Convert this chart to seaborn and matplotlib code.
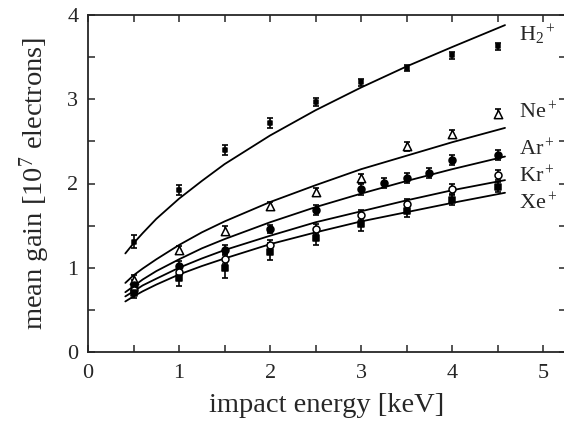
import numpy as np
import pandas as pd
import matplotlib
matplotlib.use("Agg")
import matplotlib.pyplot as plt
from matplotlib.ticker import MultipleLocator
import seaborn as sns

sns.set_style("ticks")
plt.rcParams['font.family'] = ['Liberation Serif', 'DejaVu Serif']
plt.rcParams['mathtext.fontset'] = 'custom'
plt.rcParams['mathtext.rm'] = 'Liberation Serif'
plt.rcParams['mathtext.it'] = 'Liberation Serif:italic'

# measured points (keV, 10^7 electrons)
energy = [0.5, 1.0, 1.5, 2.0, 2.5, 3.0, 3.5, 4.0, 4.5]
h2_gain = [1.31, 1.92, 2.40, 2.72, 2.97, 3.20, 3.37, 3.52, 3.63]
h2_err = [0.08, 0.06, 0.06, 0.06, 0.05, 0.04, 0.04, 0.04, 0.04]
ne_gain = [0.86, 1.21, 1.44, 1.73, 1.90, 2.06, 2.44, 2.59, 2.83]
ne_err = [0.05, 0.05, 0.05, 0.05, 0.05, 0.05, 0.05, 0.05, 0.05]
ar_energy = [0.5, 1.0, 1.5, 2.0, 2.5, 3.0, 3.25, 3.5, 3.75, 4.0, 4.5]
ar_gain = [0.80, 1.02, 1.21, 1.46, 1.69, 1.93, 2.01, 2.07, 2.12, 2.28, 2.34]
ar_err = [0.05, 0.06, 0.06, 0.05, 0.06, 0.07, 0.06, 0.06, 0.06, 0.06, 0.06]
kr_gain = [0.74, 0.95, 1.10, 1.27, 1.46, 1.63, 1.76, 1.94, 2.10]
kr_err = [0.05, 0.06, 0.06, 0.06, 0.06, 0.06, 0.06, 0.06, 0.06]
xe_gain = [0.70, 0.88, 1.00, 1.19, 1.35, 1.52, 1.67, 1.80, 1.96]
xe_err = [0.06, 0.10, 0.12, 0.10, 0.08, 0.08, 0.07, 0.06, 0.06]

# fit curves
fit_energy = [0.41, 0.5, 0.6, 0.75, 1.0, 1.25, 1.5, 2.0, 2.5, 3.0, 3.5, 4.0, 4.58]
h2_fit = [1.17, 1.29, 1.41, 1.58, 1.82, 2.03, 2.23, 2.57, 2.87, 3.14, 3.39, 3.62, 3.88]
ne_fit = [0.82, 0.91, 0.99, 1.10, 1.27, 1.42, 1.55, 1.78, 1.98, 2.17, 2.33, 2.49, 2.66]
ar_fit = [0.71, 0.78, 0.86, 0.96, 1.10, 1.23, 1.34, 1.54, 1.72, 1.88, 2.03, 2.17, 2.32]
kr_fit = [0.66, 0.72, 0.79, 0.87, 1.00, 1.11, 1.21, 1.38, 1.54, 1.67, 1.80, 1.92, 2.04]
xe_fit = [0.60, 0.66, 0.72, 0.80, 0.92, 1.02, 1.11, 1.28, 1.42, 1.55, 1.66, 1.77, 1.89]

labels = ["H$_2$$^+$", "Ne$^+$", "Ar$^+$", "Kr$^+$", "Xe$^+$"]

fig = plt.figure(figsize=(5.64, 4.30), dpi=100)
ax = fig.add_axes([88 / 564, 78 / 430, 478 / 564, 337 / 430])

fits = pd.DataFrame({"energy": fit_energy, "H2": h2_fit, "Ne": ne_fit,
                     "Ar": ar_fit, "Kr": kr_fit, "Xe": xe_fit})
for col in ["H2", "Ne", "Ar", "Kr", "Xe"]:
  sns.lineplot(x="energy", y=col, data=fits, color="black", lw=1.3, ax=ax)

points = [
  (energy, h2_gain, h2_err, "s", 3, "black"),
  (energy, ne_gain, ne_err, "^", 6, "white"),
  (ar_energy, ar_gain, ar_err, "o", 5, "black"),
  (energy, kr_gain, kr_err, "o", 5, "white"),
  (energy, xe_gain, xe_err, "s", 5, "black"),
]
for x, y, err, marker, size, face in points:
  ax.errorbar(x, y, yerr=err, fmt="none", ecolor="black", elinewidth=1.2,
              capsize=2.5, capthick=1.2, zorder=3)
  sns.scatterplot(x=x, y=y, marker=marker, s=size ** 2, color=face,
                  edgecolor="black", linewidth=1.1, zorder=4, ax=ax)

label_y = [3.76, 2.84, 2.40, 2.08, 1.76]
for text, ly in zip(labels, label_y):
  ax.text(4.73, ly, text, fontsize=16, va="center", ha="left")

ax.set_xlim(0, 5.25)
ax.set_ylim(0, 4)
ax.xaxis.set_major_locator(MultipleLocator(1))
ax.xaxis.set_minor_locator(MultipleLocator(0.5))
ax.yaxis.set_major_locator(MultipleLocator(1))
ax.yaxis.set_minor_locator(MultipleLocator(0.5))
ax.tick_params(which="both", direction="in", top=True, right=True,
               length=5, width=1.1, labelsize=16)
ax.tick_params(axis="x", pad=9)
ax.tick_params(axis="y", pad=7)
for sp in ax.spines.values():
  sp.set_linewidth(1.3)

ax.set_xlabel("impact energy [keV]", fontsize=20.5, labelpad=7)
ax.set_ylabel("mean gain [10$^7$ electrons]", fontsize=20.5, labelpad=11)

fig.savefig("out.png", dpi=100)
